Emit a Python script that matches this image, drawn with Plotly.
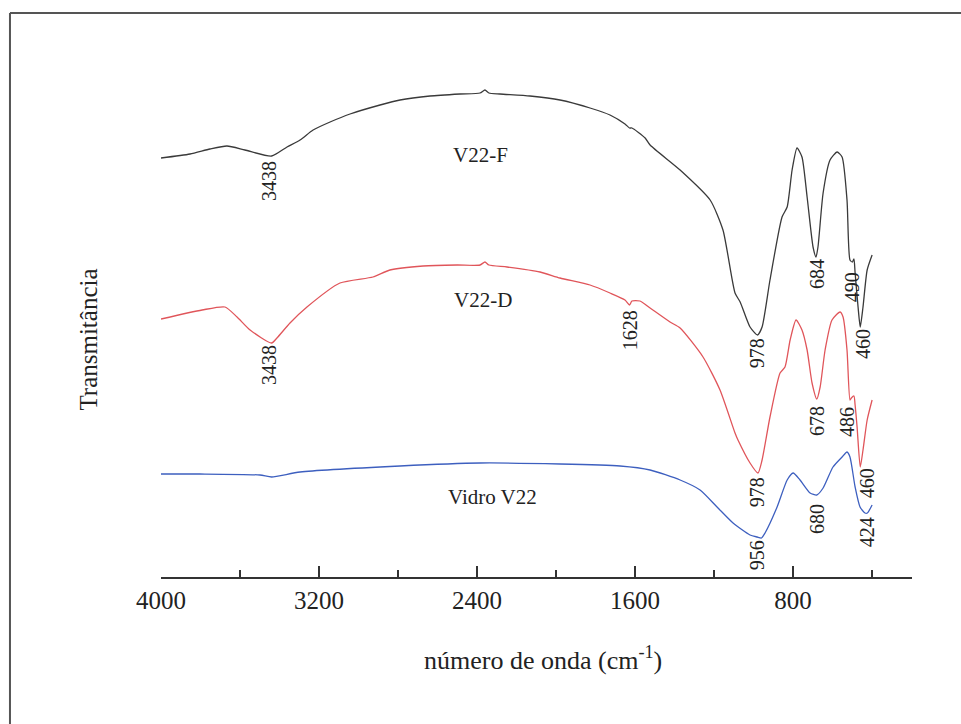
import plotly.graph_objects as go

# ---- data (wavenumber in cm-1, transmittance in arbitrary units) ----
wn_f = [4000, 3853, 3752, 3666, 3575, 3440, 3362, 3296, 3230, 3144, 3043, 2891, 2790, 2638, 2486,
        2385, 2360, 2340, 2284, 2132, 1980, 1828, 1727, 1651, 1628, 1616, 1549, 1524, 1372, 1220,
        1155, 1094, 1068, 1018, 980, 957, 917, 856, 830, 805, 780, 755, 729, 699, 684, 674, 648,
        613, 577, 552, 527, 512, 500, 492, 486, 471, 460, 446, 425, 400]
t_f = [419, 423, 428, 431, 427, 421, 430, 437, 447, 455, 463, 472, 477, 481, 483,
       484, 487, 484, 483, 481, 477, 469, 462, 453, 449, 449, 439, 432, 407, 377,
       347, 284, 275, 250, 242, 250, 297, 360, 370, 407, 429, 420, 380, 330, 320, 330, 384,
       417, 425, 420, 377, 317, 315, 318, 304, 270, 250, 270, 307, 322]

wn_d = [4000, 3792, 3676, 3615, 3549, 3440, 3413, 3347, 3261, 3094, 2927, 2841, 2673, 2501,
        2385, 2360, 2340, 2248, 2081, 1980, 1828, 1727, 1651, 1628, 1616, 1575, 1524, 1423, 1372,
        1256, 1170, 1094, 1079, 1018, 978, 957, 917, 866, 841, 815, 785, 755, 729, 704, 680,
        663, 638, 603, 562, 547, 527, 512, 505, 492, 486, 476, 460, 446, 425, 400]
t_d = [258, 267, 270, 260, 247, 234, 239, 254, 270, 294, 300, 307, 311, 312,
       312, 315, 312, 310, 305, 299, 292, 284, 277, 272, 276, 276, 269, 255, 249,
       220, 187, 144, 137, 114, 104, 117, 160, 204, 210, 237, 257, 247, 227, 194, 178,
       190, 227, 257, 265, 260, 227, 177, 179, 181, 172, 150, 110, 127, 157, 177]

wn_v = [4000, 3803, 3499, 3440, 3296, 2790, 2385, 1980, 1676, 1524, 1372, 1271, 1185, 1104,
        1018, 982, 960, 942, 881, 830, 800, 765, 714, 680, 648, 598, 552, 527, 512, 486, 461,
        436, 424, 400]
t_v = [103, 103, 102, 100, 105, 111, 114, 113, 111, 107, 97, 87, 70, 54,
       42, 40, 39, 44, 70, 97, 104, 97, 84, 82, 89, 110, 120, 125, 120, 90, 70,
       64, 64, 72]

series_names = ["V22-F", "V22-D", "Vidro V22"]
series_colors = ["#3a3a3a", "#e0555a", "#3d5fbf"]

# peak labels: (text, wavenumber position, transmittance position)
peak_text = ["3438", "978", "684", "490", "460",
             "3438", "1628", "978", "678", "486", "460",
             "956", "680", "424"]
peak_x = [3453, 982, 679, 501, 446,
          3453, 1625, 982, 679, 527, 425,
          982, 679, 425]
peak_y = [396, 224, 303, 290, 233,
          212, 247, 85, 156, 155, 94,
          22, 58, 45]

curve_label_x = [2385, 2370, 2324]
curve_label_y = [422, 277, 80]

major_ticks = [4000, 3200, 2400, 1600, 800]
minor_ticks = [3600, 2800, 2000, 1200, 400]

SERIF = "Liberation Serif, Times New Roman, serif"

fig = go.Figure()
for wn, t, name, col in zip([wn_f, wn_d, wn_v], [t_f, t_d, t_v], series_names, series_colors):
    fig.add_trace(go.Scatter(x=wn, y=t, mode="lines", name=name,
                             line=dict(color=col, width=1.3, shape="spline", smoothing=0.6),
                             showlegend=False, hoverinfo="skip"))

annotations = []
for txt, x, y in zip(peak_text, peak_x, peak_y):
    annotations.append(dict(x=x, y=y, xref="x", yref="y", text=txt, showarrow=False,
                            textangle=-90, font=dict(family=SERIF, size=20, color="#222")))
for txt, x, y in zip(series_names, curve_label_x, curve_label_y):
    annotations.append(dict(x=x, y=y, xref="x", yref="y", text=txt, showarrow=False,
                            font=dict(family=SERIF, size=21, color="#222")))

annotations.append(dict(x=-0.097, y=0.478, xref="paper", yref="paper", text="Transmitância",
                        xanchor="center", yanchor="middle",
                        showarrow=False, textangle=-90,
                        font=dict(family=SERIF, size=25, color="#222")))
annotations.append(dict(x=0.509, y=-0.163, xref="paper", yref="paper",
                        xanchor="center", yanchor="middle",
                        text="número de onda (cm<sup>-1</sup>)", showarrow=False,
                        font=dict(family=SERIF, size=26, color="#222")))

shapes = [
    dict(type="line", xref="paper", yref="paper", x0=-0.2011, x1=-0.2011, y0=-0.35, y1=1.1348,
         line=dict(color="#555", width=2)),
    dict(type="line", xref="paper", yref="paper", x0=-0.2011, x1=1.1, y0=1.1348, y1=1.1348,
         line=dict(color="#555", width=2)),
]

fig.update_layout(
    width=961, height=724,
    margin=dict(l=161, r=49, t=80, b=147),
    paper_bgcolor="white", plot_bgcolor="white",
    annotations=annotations, shapes=shapes,
    xaxis=dict(range=[4000, 198], showgrid=False, zeroline=False, showline=True,
               linecolor="#333", linewidth=2, ticks="inside", ticklen=11, tickwidth=2,
               tickcolor="#333", tickvals=major_ticks, ticktext=[str(v) for v in major_ticks],
               tickfont=dict(family=SERIF, size=25, color="#222"),
               minor=dict(tickvals=minor_ticks, ticks="inside", ticklen=7, tickwidth=2,
                          tickcolor="#333", showgrid=False)),
    yaxis=dict(range=[0, 497], visible=False),
)

fig.write_html("out.html")
